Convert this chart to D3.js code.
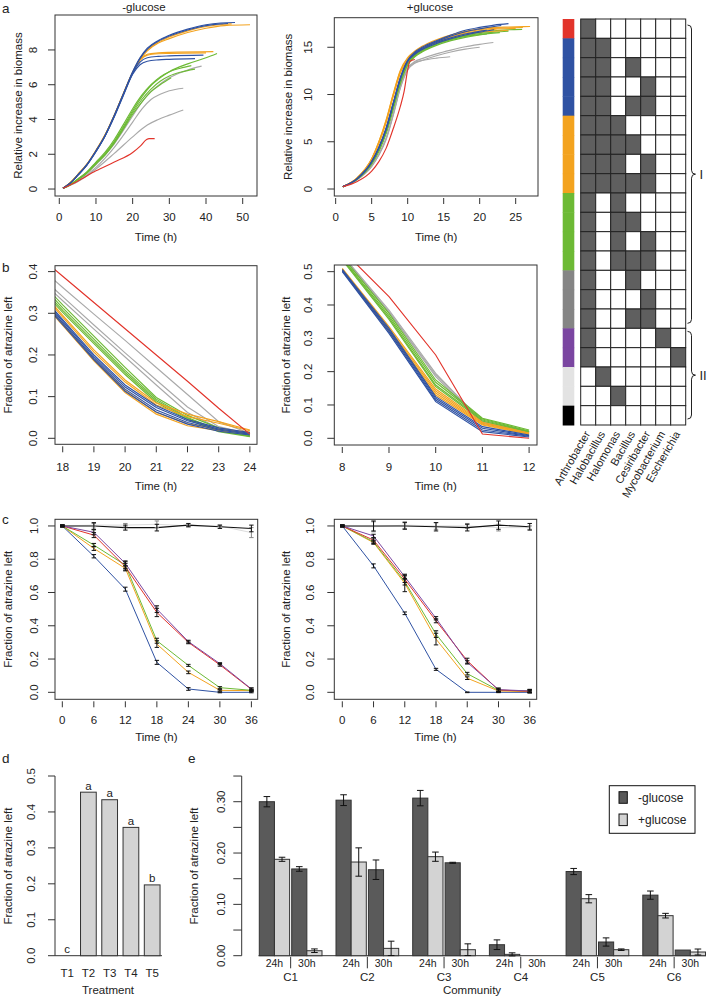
<!DOCTYPE html>
<html><head><meta charset="utf-8">
<script src="https://cdn.jsdelivr.net/npm/d3@7"></script>
<style>
body{margin:0;background:#fff;}
text{font-family:"Liberation Sans",Arial,sans-serif;fill:#222;}
</style></head><body>
<svg id="fig" width="709" height="999"></svg>
<script>
// ---------------- DATA ----------------
// community group (colour bar group) of each of the 16 curves in panels a and b
const curveGroups = ["red","blue","blue","blue","blue","orange","orange","orange","orange","green","green","green","green","grey","grey","grey"];

// panel a, -glucose: [time h, relative increase in biomass]
const aMinus = [
 [[1,0.04],[5,0.45],[10,1.05],[15,1.55],[20,2.1],[22,2.45],[23.8,2.85],[24.5,2.9],[26,2.9]],
 [[1,0.05],[3,0.35],[5,0.8],[7.5,1.4],[10,2.2],[12.5,3.1],[15,4.25],[17.5,5.5],[20,6.75],[22,7.55],[24,8.1],[27,8.55],[30,8.85],[35,9.2],[40,9.45],[44,9.55],[47.9,9.58]],
 [[1,0.05],[3,0.34],[5,0.78],[7.5,1.38],[10,2.17],[12.5,3.07],[15,4.2],[17.5,5.45],[20,6.7],[22,7.5],[24,8.05],[27,8.5],[30,8.8],[35,9.15],[40,9.4],[44,9.5],[46,9.52]],
 [[1,0.05],[3,0.34],[5,0.78],[7.5,1.38],[10,2.17],[12.5,3.07],[15,4.2],[17.5,5.45],[20,6.65],[22,7.3],[24,7.55],[27,7.63],[30,7.66],[39.3,7.7]],
 [[1,0.05],[3,0.34],[5,0.78],[7.5,1.37],[10,2.15],[12.5,3.05],[15,4.15],[17.5,5.4],[20,6.6],[22,7.15],[24,7.35],[27,7.43],[30,7.46],[37,7.5]],
 [[1,0.05],[3,0.36],[5,0.82],[7.5,1.42],[10,2.22],[12.5,3.12],[15,4.25],[17.5,5.5],[20,6.7],[22,7.45],[24,7.95],[27,8.4],[30,8.65],[35,9.0],[40,9.25],[45,9.4],[52,9.45]],
 [[1,0.05],[3,0.36],[5,0.82],[7.5,1.42],[10,2.22],[12.5,3.12],[15,4.25],[17.5,5.5],[20,6.72],[22,7.5],[24,8.0],[27,8.45],[30,8.75],[35,9.1],[40,9.35],[45,9.48],[47,9.5]],
 [[1,0.05],[3,0.36],[5,0.82],[7.5,1.42],[10,2.22],[12.5,3.12],[15,4.25],[17.5,5.5],[20,6.7],[22,7.45],[24,7.75],[27,7.83],[30,7.86],[42,7.9]],
 [[1,0.05],[3,0.36],[5,0.81],[7.5,1.41],[10,2.2],[12.5,3.1],[15,4.22],[17.5,5.47],[20,6.68],[22,7.4],[24,7.7],[27,7.78],[30,7.8],[40,7.83]],
 [[1,0.04],[3,0.25],[5,0.55],[7.5,0.95],[10,1.5],[12.5,2.05],[15,2.75],[17.5,3.6],[20,4.5],[22.5,5.3],[25,5.95],[27.5,6.4],[30,6.75],[35,7.2],[40,7.55],[43,7.8]],
 [[1,0.04],[3,0.26],[5,0.57],[7.5,0.98],[10,1.55],[12.5,2.12],[15,2.85],[17.5,3.72],[20,4.62],[22.5,5.4],[25,6.0],[27.5,6.45],[30,6.75],[33,6.95],[36,7.1]],
 [[1,0.04],[3,0.25],[5,0.54],[7.5,0.93],[10,1.47],[12.5,2.0],[15,2.7],[17.5,3.52],[20,4.4],[22.5,5.15],[25,5.75],[27.5,6.2],[30,6.5],[33,6.72],[37,6.9]],
 [[1,0.04],[3,0.24],[5,0.53],[7.5,0.91],[10,1.44],[12.5,1.96],[15,2.64],[17.5,3.45],[20,4.3],[22.5,5.0],[25,5.6],[27.5,6.0],[30.5,6.4]],
 [[1,0.04],[5,0.5],[10,1.4],[15,2.6],[20,4.2],[22.5,5.0],[25,5.6],[27.5,6.05],[30,6.4],[35,6.85],[38.8,7.07]],
 [[1,0.04],[5,0.45],[10,1.25],[15,2.4],[20,3.85],[22.5,4.6],[25,5.15],[27.5,5.45],[30,5.65],[33.8,5.8]],
 [[1,0.04],[5,0.42],[10,1.15],[15,2.05],[20,3.0],[22.5,3.45],[24,3.68],[27,4.0],[30,4.25],[33.8,4.55]]
];

// panel a, +glucose
const aPlus = [
 [[1,0.25],[3,0.8],[5,1.9],[6,2.9],[7,4.3],[8,6.4],[9,8.8],[9.5,10.3],[10,12.6],[10.3,13.5],[11,13.7]],
 [[1,0.25],[3,1.1],[5,2.9],[6,4.4],[7,6.4],[8,9.1],[9,11.8],[10,13.6],[11,14.5],[12,15.0],[14,15.7],[16,16.3],[18,16.8],[20,17.1],[22,17.35],[24,17.5]],
 [[1,0.25],[3,1.1],[5,2.9],[6,4.4],[7,6.4],[8,9.1],[9,11.8],[10,13.6],[11,14.4],[12,14.9],[14,15.6],[16,16.2],[18,16.65],[20,16.95],[22,17.2],[23,17.3]],
 [[1,0.25],[3,1.1],[5,2.85],[6,4.35],[7,6.3],[8,9.0],[9,11.7],[10,13.5],[11,14.3],[12,14.8],[14,15.5],[16,16.0],[18,16.4],[20,16.7],[21,16.8]],
 [[1,0.25],[3,1.1],[5,2.85],[6,4.35],[7,6.3],[8,9.0],[9,11.7],[10,13.5],[11,14.25],[12,14.75],[14,15.4],[16,15.9],[18,16.3],[20,16.6],[22,16.85]],
 [[1,0.25],[3,1.2],[5,3.2],[6,5.0],[7,7.3],[8,10.1],[9,12.6],[10,13.9],[11,14.6],[12,15.1],[14,15.8],[16,16.3],[18,16.7],[20,16.95],[22,17.1],[24,17.15],[27,17.2]],
 [[1,0.25],[3,1.2],[5,3.2],[6,5.0],[7,7.2],[8,10.0],[9,12.5],[10,13.8],[11,14.5],[12,15.0],[14,15.7],[16,16.2],[18,16.6],[20,16.85],[22,17.0],[24,17.05],[26,17.1]],
 [[1,0.25],[3,1.15],[5,3.1],[6,4.9],[7,7.1],[8,9.9],[9,12.4],[10,13.7],[11,14.4],[12,14.9],[14,15.6],[16,16.1],[18,16.5],[20,16.75],[22,16.9],[25,17.0]],
 [[1,0.25],[3,1.15],[5,3.1],[6,4.8],[7,7.0],[8,9.8],[9,12.3],[10,13.6],[11,14.3],[12,14.8],[14,15.5],[16,16.0],[18,16.4],[20,16.6],[22,16.7],[24,16.8]],
 [[1,0.25],[3,1.05],[5,2.7],[6,4.1],[7,6.0],[8,8.7],[9,11.4],[10,13.3],[11,14.2],[12,14.7],[14,15.4],[16,15.9],[18,16.3],[20,16.55],[22,16.75],[24,16.85],[25.9,16.9]],
 [[1,0.25],[3,1.05],[5,2.7],[6,4.1],[7,6.0],[8,8.6],[9,11.3],[10,13.2],[11,14.1],[12,14.6],[14,15.3],[16,15.8],[18,16.15],[20,16.35],[22.8,16.55]],
 [[1,0.25],[3,1.05],[5,2.65],[6,4.0],[7,5.9],[8,8.5],[9,11.2],[10,13.1],[11,14.0],[12,14.5],[14,15.2],[16,15.7],[18,16.05],[20,16.3],[21,16.4]],
 [[1,0.25],[3,1.05],[5,2.7],[6,4.05],[7,5.95],[8,8.6],[9,11.3],[10,13.2],[11,14.1],[12,14.6],[14,15.35],[16,15.85],[18,16.2],[20,16.45],[22,16.6],[24,16.7]],
 [[1,0.25],[3,1.0],[5,2.5],[6,3.7],[7,5.4],[8,8.0],[9,10.9],[10,12.8],[11,13.5],[12,13.8],[14,14.3],[16,14.7],[18,15.05],[20,15.3],[21.9,15.5]],
 [[1,0.25],[3,1.0],[5,2.4],[6,3.6],[7,5.2],[8,7.8],[9,10.7],[10,12.6],[11,13.3],[12,13.6],[14,14.1],[16,14.5],[18,14.8],[20,15.0]],
 [[1,0.25],[3,1.0],[5,2.4],[6,3.6],[7,5.3],[8,7.9],[9,10.8],[10,12.7],[11,13.4],[12,13.6],[14,13.85],[15.9,14.0]]
];

// panel b, -glucose: fraction of atrazine left at each hour
const bMinusHours = [17,18,19,20,21,22,23,24];
const bMinus = [
 [0.452,0.389,0.326,0.263,0.200,0.137,0.072,0.010],
 [0.370,0.285,0.200,0.128,0.078,0.045,0.025,0.014],
 [0.366,0.281,0.196,0.123,0.074,0.042,0.022,0.012],
 [0.362,0.277,0.192,0.118,0.068,0.038,0.020,0.010],
 [0.358,0.273,0.188,0.113,0.063,0.034,0.017,0.008],
 [0.380,0.295,0.212,0.140,0.085,0.058,0.040,0.020],
 [0.376,0.291,0.207,0.135,0.080,0.052,0.036,0.018],
 [0.360,0.275,0.190,0.115,0.062,0.035,0.022,0.015],
 [0.356,0.271,0.186,0.110,0.058,0.030,0.018,0.012],
 [0.400,0.320,0.245,0.170,0.098,0.055,0.025,0.008],
 [0.393,0.313,0.238,0.163,0.094,0.050,0.020,0.006],
 [0.387,0.307,0.232,0.158,0.090,0.048,0.018,0.005],
 [0.382,0.302,0.227,0.153,0.086,0.045,0.016,0.004],
 [0.426,0.362,0.298,0.235,0.170,0.105,0.040,0.012],
 [0.408,0.340,0.272,0.205,0.140,0.075,0.028,0.010],
 [0.400,0.330,0.262,0.195,0.128,0.062,0.024,0.008]
];

// panel b, +glucose
const bPlusHours = [8,9,10,11,12];
const bPlus = [
 [0.565,0.425,0.250,0.013,0.000],
 [0.507,0.330,0.125,0.035,0.010],
 [0.504,0.325,0.120,0.030,0.008],
 [0.502,0.320,0.115,0.025,0.006],
 [0.500,0.315,0.110,0.020,0.004],
 [0.510,0.335,0.148,0.048,0.016],
 [0.508,0.330,0.142,0.045,0.015],
 [0.505,0.325,0.136,0.042,0.013],
 [0.503,0.320,0.130,0.040,0.012],
 [0.545,0.375,0.175,0.060,0.025],
 [0.540,0.368,0.168,0.058,0.022],
 [0.538,0.362,0.160,0.055,0.020],
 [0.535,0.357,0.155,0.052,0.018],
 [0.550,0.385,0.195,0.050,0.020],
 [0.548,0.380,0.190,0.048,0.018],
 [0.545,0.378,0.185,0.045,0.015]
];

// panel c
const cHours = [0,6,12,18,24,30,36];
const cGroups = ["lightgrey","black","blue","orange","green","red","purple"];
const cMinusMean = [
 [1,1.005,1.005,1.01,1.0,1.0,0.96],
 [1,1.0,0.99,0.99,1.005,0.995,0.985],
 [1,0.818,0.62,0.18,0.02,0.0,0.0],
 [1,0.865,0.745,0.29,0.12,0.012,0.01],
 [1,0.885,0.765,0.31,0.162,0.028,0.012],
 [1,0.945,0.755,0.48,0.30,0.165,0.018],
 [1,0.962,0.775,0.50,0.305,0.172,0.02]
];
const cMinusErr = [
 [0.005,0.01,0.01,0.02,0.005,0.005,0.03],
 [0.005,0.02,0.015,0.02,0.01,0.01,0.02],
 [0.005,0.01,0.012,0.012,0.008,0.003,0.003],
 [0.005,0.012,0.015,0.02,0.008,0.004,0.004],
 [0.005,0.01,0.02,0.015,0.006,0.006,0.004],
 [0.005,0.015,0.02,0.025,0.008,0.008,0.008],
 [0.005,0.015,0.015,0.02,0.008,0.006,0.006]
];
const cPlusMean = [
 [1,0.995,1.005,1.0,1.0,0.99,0.99],
 [1,1.0,1.0,0.995,0.99,1.005,0.995],
 [1,0.76,0.475,0.138,0.0,0.0,0.0],
 [1,0.90,0.655,0.32,0.085,0.008,0.004],
 [1,0.905,0.665,0.35,0.112,0.012,0.008],
 [1,0.915,0.68,0.43,0.19,0.014,0.006],
 [1,0.94,0.695,0.445,0.18,0.016,0.008]
];
const cPlusErr = [
 [0.005,0.03,0.02,0.02,0.015,0.02,0.01],
 [0.005,0.03,0.02,0.025,0.02,0.025,0.02],
 [0.005,0.012,0.008,0.006,0.002,0.002,0.002],
 [0.005,0.01,0.05,0.035,0.008,0.006,0.006],
 [0.005,0.01,0.02,0.02,0.008,0.006,0.006],
 [0.005,0.012,0.02,0.012,0.015,0.01,0.01],
 [0.005,0.01,0.015,0.01,0.01,0.01,0.01]
];

// panel d
const dTreatments = ["T1","T2","T3","T4","T5"];
const dValues = [0.0,0.455,0.434,0.357,0.197];
const dLetters = ["c","a","a","a","b"];

// panel e
const eCommunities = ["C1","C2","C3","C4","C5","C6"];
const eTimes = ["24h","30h"];
const eMinusMean = [[0.300,0.169],[0.303,0.1675],[0.307,0.181],[0.0214,0],[0.164,0.0267],[0.118,0.011]];
const eMinusErr  = [[0.010,0.0045],[0.0105,0.019],[0.015,0.001],[0.0094,0],[0.006,0.008],[0.008,0]];
const ePlusMean  = [[0.1878,0.0097],[0.1825,0.0143],[0.1929,0.0117],[0.0026,0],[0.111,0.0117],[0.078,0.0072]];
const ePlusErr   = [[0.004,0.0035],[0.0276,0.014],[0.009,0.0114],[0.003,0],[0.008,0.0015],[0.0045,0.0058]];

// community composition grid
const genera = ["Arthrobacter","Halobacillus","Halomonas","Bacillus","Cesiribacter","Mycobacterium","Escherichia"];
const gridRowGroups = ["red","blue","blue","blue","blue","orange","orange","orange","orange","green","green","green","green","grey","grey","grey","purple","purple","lightgrey","lightgrey","black"];
const gridRows = [
 [1,0,0,0,0,0,0],[1,1,0,0,0,0,0],[1,1,0,1,0,0,0],[1,1,0,0,1,0,0],[1,1,0,1,1,0,0],
 [1,1,1,0,0,0,0],[1,1,1,1,0,0,0],[1,1,1,0,1,0,0],[1,1,1,1,1,0,0],
 [1,0,1,0,0,0,0],[1,0,1,1,0,0,0],[1,0,1,0,1,0,0],[1,0,1,1,1,0,0],
 [1,0,0,1,0,0,0],[1,0,0,0,1,0,0],[1,0,0,1,1,0,0],
 [1,0,0,0,0,1,0],[1,0,0,0,0,0,1],
 [0,1,0,0,0,0,0],[0,0,1,0,0,0,0],
 [0,0,0,0,0,0,0]
];
const clusterLabels = ["I","II"];

// ---------------- STYLE ----------------
const lineColor = {red:"#e2342b",blue:"#2f52a3",orange:"#f3a31f",green:"#6dba35",grey:"#a9a9a9",purple:"#7b46a1",lightgrey:"#dcdcdc",black:"#111"};
const barColor  = {red:"#e2342b",blue:"#2f52a3",orange:"#f3a31f",green:"#6dba35",grey:"#858585",purple:"#7b46a1",lightgrey:"#e3e3e3",black:"#000"};
const AX = "#333";
const svg = d3.select("#fig");

function txt(g,x,y,s,o={}){
  const t=g.append("text").attr("x",x).attr("y",y).text(s)
    .attr("font-size",o.size||11.5).attr("text-anchor",o.anchor||"middle");
  if(o.dy) t.attr("dy",o.dy);
  if(o.rot!==undefined) t.attr("transform",`rotate(${o.rot},${x},${y})`);
  if(o.family) t.attr("font-family",o.family);
  return t;
}

function linePanel(p){
  const [x0,x1,y0,y1]=p.box;
  const x=d3.scaleLinear().domain(p.xDom).range([x0,x1]);
  const y=d3.scaleLinear().domain(p.yDom).range([y1,y0]);
  const g=svg.append("g");
  svg.append("clipPath").attr("id",p.id).append("rect")
    .attr("x",x0).attr("y",y0).attr("width",x1-x0).attr("height",y1-y0);
  const plot=g.append("g").attr("clip-path",`url(#${p.id})`);
  g.append("rect").attr("x",x0).attr("y",y0).attr("width",x1-x0).attr("height",y1-y0)
    .attr("fill","none").attr("stroke",AX).attr("stroke-width",1);
  p.yTicks.forEach(v=>{
    g.append("line").attr("x1",x0-7).attr("x2",x0).attr("y1",y(v)).attr("y2",y(v)).attr("stroke",AX);
    txt(g,p.yLabX,y(v),p.yFmt(v),{rot:-90,dy:"0.35em"});
  });
  p.xTicks.forEach(v=>{
    g.append("line").attr("x1",x(v)).attr("x2",x(v)).attr("y1",y1+2).attr("y2",y1+8).attr("stroke",AX);
    txt(g,x(v),y1+p.xLabOff,String(v),{dy:"0.35em"});
  });
  txt(g,(x0+x1)/2,y1+p.xTitleOff,"Time (h)",{dy:"0.35em"});
  txt(g,p.yTitleX,(y0+y1)/2,p.yTitle,{rot:-90,dy:"0.35em"});
  if(p.title) txt(g,p.titleX,10.8,p.title,{size:11.5});
  return {x,y,plot,g};
}

const f1=d3.format(".1f");
const order=["grey","green","orange","blue","red"];
function drawCurves(P,data,curve){
  order.forEach(grp=>{
    data.forEach((pts,i)=>{
      if(curveGroups[i]!==grp) return;
      const line=d3.line().x(d=>P.x(d[0])).y(d=>P.y(d[1])).curve(curve);
      P.plot.append("path").attr("d",line(pts)).attr("fill","none")
        .attr("stroke",lineColor[grp]).attr("stroke-width",1.15);
    });
  });
}

// ---- panel a ----
const A1=linePanel({id:"ca1",box:[55,257,15,196],xDom:[-1.17,53.9],yDom:[-0.40,10.01],
  xTicks:[0,10,20,30,40,50],yTicks:[0,2,4,6,8],yFmt:String,yLabX:32.5,xLabOff:21,xTitleOff:41,
  yTitleX:17.5,yTitle:"Relative increase in biomass",title:"-glucose",titleX:144});
drawCurves(A1,aMinus,d3.curveMonotoneX);
const A2=linePanel({id:"ca2",box:[334.3,538,17.7,196],xDom:[-0.19,28.1],yDom:[-0.74,18.13],
  xTicks:[0,5,10,15,20,25],yTicks:[0,5,10,15],yFmt:String,yLabX:308,xLabOff:21,xTitleOff:41,
  yTitleX:287.5,yTitle:"Relative increase in biomass",title:"+glucose",titleX:430});
drawCurves(A2,aPlus,d3.curveMonotoneX);

// ---- panel b ----
const B1=linePanel({id:"cb1",box:[55,257,265.7,444.3],xDom:[17.753,24.228],yDom:[-0.0144,0.4142],
  xTicks:[18,19,20,21,22,23,24],yTicks:[0,0.1,0.2,0.3,0.4],yFmt:f1,yLabX:33,xLabOff:22.4,xTitleOff:42,
  yTitleX:8,yTitle:"Fraction of atrazine left"});
drawCurves(B1,bMinus.map(r=>r.map((v,j)=>[bMinusHours[j],v])),d3.curveLinear);
const B2=linePanel({id:"cb2",box:[334.3,537,265,445],xDom:[7.829,12.169],yDom:[-0.0201,0.52],
  xTicks:[8,9,10,11,12],yTicks:[0,0.1,0.2,0.3,0.4,0.5],yFmt:f1,yLabX:308,xLabOff:21.7,xTitleOff:41.3,
  yTitleX:286,yTitle:"Fraction of atrazine left"});
drawCurves(B2,bPlus.map(r=>r.map((v,j)=>[bPlusHours[j],v])),d3.curveLinear);

// ---- panel c ----
function drawC(P,mean,err){
  const line=d3.line().x((d,j)=>P.x(cHours[j])).y(d=>P.y(d));
  cGroups.forEach((grp,i)=>{
    P.plot.append("path").attr("d",line(mean[i])).attr("fill","none")
      .attr("stroke",lineColor[grp]).attr("stroke-width",grp==="black"?1.1:1);
  });
  cGroups.forEach((grp,i)=>{
    mean[i].forEach((m,j)=>{
      const xx=P.x(cHours[j]),lo=P.y(m-err[i][j]),hi=P.y(m+err[i][j]);
      const c=grp==="lightgrey"?"#888":"#111";
      P.g.append("line").attr("x1",xx).attr("x2",xx).attr("y1",lo).attr("y2",hi).attr("stroke",c).attr("stroke-width",1);
      [lo,hi].forEach(yy=>P.g.append("line").attr("x1",xx-2.2).attr("x2",xx+2.2).attr("y1",yy).attr("y2",yy).attr("stroke",c).attr("stroke-width",1));
    });
  });
}
const C1=linePanel({id:"cc1",box:[55,257.7,519.3,699.3],xDom:[-1.395,37.2],yDom:[-0.042,1.04],
  xTicks:[0,6,12,18,24,30,36],yTicks:[0,0.2,0.4,0.6,0.8,1.0],yFmt:f1,yLabX:34,xLabOff:20.7,xTitleOff:38,
  yTitleX:8,yTitle:"Fraction of atrazine left"});
drawC(C1,cMinusMean,cMinusErr);
const C2=linePanel({id:"cc2",box:[334.3,536.7,519.3,699.3],xDom:[-1.537,37.34],yDom:[-0.042,1.04],
  xTicks:[0,6,12,18,24,30,36],yTicks:[0,0.2,0.4,0.6,0.8,1.0],yFmt:f1,yLabX:310,xLabOff:20.7,xTitleOff:38,
  yTitleX:286,yTitle:"Fraction of atrazine left"});
drawC(C2,cPlusMean,cPlusErr);

// ---- grid ----
(function(){
  const g=svg.append("g");
  const gx=d3.scaleBand().domain(genera).range([580.7,685.7]);
  const gy=d3.scaleBand().domain(d3.range(gridRows.length)).range([19,425]);
  gridRows.forEach((row,r)=>{
    g.append("rect").attr("x",562.7).attr("y",gy(r)).attr("width",11.6).attr("height",gy.bandwidth()+0.5)
      .attr("fill",barColor[gridRowGroups[r]]);
    row.forEach((v,c)=>{
      g.append("rect").attr("x",gx(genera[c])).attr("y",gy(r)).attr("width",gx.bandwidth()).attr("height",gy.bandwidth())
        .attr("fill",v?"#5f5f5f":"#fff").attr("stroke","#222").attr("stroke-width",1);
    });
  });
  genera.forEach(n=>{
    const xx=gx(n)+gx.bandwidth()/2-1, yy=432;
    txt(g,xx,yy,n,{anchor:"end",rot:-60,dy:"0.35em",size:11});
  });
  // brackets
  const br=(top,bot,label)=>{
    const m=(top+bot)/2, X=691.5;
    g.append("path").attr("d",`M${X-4},${top} Q${X},${top} ${X},${top+4} L${X},${m-4} Q${X},${m} ${X+4},${m} Q${X},${m} ${X},${m+4} L${X},${bot-4} Q${X},${bot} ${X-4},${bot}`)
      .attr("fill","none").attr("stroke","#222").attr("stroke-width",1);
    txt(g,X+8,m,label,{anchor:"start",dy:"0.35em",size:13,family:"'Liberation Serif','Times New Roman',serif"});
  };
  br(gy(0)+6,gy(15)+gy.bandwidth()-5,clusterLabels[0]);
  br(gy(16)+3,gy(20)+gy.bandwidth()-6,clusterLabels[1]);
})();

// ---- panel d ----
(function(){
  const g=svg.append("g");
  const y=d3.scaleLinear().domain([0,0.5]).range([955.7,776]);
  const x=d3.scaleBand().domain(dTreatments).range([55,164.3]).paddingInner(0.26).paddingOuter(0.2);
  g.append("line").attr("x1",55).attr("x2",55).attr("y1",y(0)).attr("y2",y(0.5)).attr("stroke",AX);
  [0,0.1,0.2,0.3,0.4,0.5].forEach(v=>{
    g.append("line").attr("x1",48).attr("x2",55).attr("y1",y(v)).attr("y2",y(v)).attr("stroke",AX);
    txt(g,31,y(v),f1(v),{rot:-90,dy:"0.35em"});
  });
  g.append("line").attr("x1",55).attr("x2",162).attr("y1",y(0)).attr("y2",y(0)).attr("stroke",AX);
  dTreatments.forEach((t,i)=>{
    g.append("rect").attr("x",x(t)).attr("y",y(dValues[i])).attr("width",x.bandwidth()).attr("height",y(0)-y(dValues[i]))
      .attr("fill","#d3d3d3").attr("stroke",AX).attr("stroke-width",1);
    txt(g,x(t)+x.bandwidth()/2,y(dValues[i])-2.5,dLetters[i]);
    txt(g,x(t)+x.bandwidth()/2,973.3,t,{dy:"0.35em"});
  });
  txt(g,108,990,"Treatment",{dy:"0.35em"});
  txt(g,8,866,"Fraction of atrazine left",{rot:-90,dy:"0.35em"});
})();

// ---- panel e ----
(function(){
  const g=svg.append("g");
  const y=d3.scaleLinear().domain([0,0.35]).range([955.7,955.7-0.35*513.3]);
  const xG=d3.scaleBand().domain(eCommunities).range([259.3,705.5]).paddingInner(0.1825).paddingOuter(0);
  const xT=d3.scaleBand().domain(eTimes).range([0,xG.bandwidth()]).paddingInner(0.065);
  const xC=d3.scaleBand().domain(["-glucose","+glucose"]).range([0,xT.bandwidth()]);
  g.append("line").attr("x1",241.7).attr("x2",241.7).attr("y1",y(0)).attr("y2",y(0.35)).attr("stroke",AX);
  d3.range(0,0.351,0.05).forEach((v,i)=>{
    g.append("line").attr("x1",233.3).attr("x2",241.7).attr("y1",y(v)).attr("y2",y(v)).attr("stroke",AX);
    if(i%2===0) txt(g,221,y(v),d3.format(".2f")(v),{rot:-90,dy:"0.35em"});
  });
  g.append("line").attr("x1",258.5).attr("x2",706).attr("y1",y(0)).attr("y2",y(0)).attr("stroke",AX);
  eCommunities.forEach((c,ci)=>{
    eTimes.forEach((t,ti)=>{
      const sets=[["-glucose",eMinusMean,eMinusErr,"#5a5a5a"],["+glucose",ePlusMean,ePlusErr,"#d3d3d3"]];
      sets.forEach(([k,M,E,fill])=>{
        const v=M[ci][ti], e=E[ci][ti];
        const bx=xG(c)+xT(t)+xC(k), bw=xC.bandwidth();
        g.append("rect").attr("x",bx).attr("y",y(v)).attr("width",bw).attr("height",y(0)-y(v))
          .attr("fill",fill).attr("stroke",AX).attr("stroke-width",1);
        if(e>0){
          const cx=bx+bw/2;
          g.append("line").attr("x1",cx).attr("x2",cx).attr("y1",y(v-e)).attr("y2",y(v+e)).attr("stroke","#111");
          [v-e,v+e].forEach(vv=>g.append("line").attr("x1",cx-3.3).attr("x2",cx+3.3).attr("y1",y(vv)).attr("y2",y(vv)).attr("stroke","#111"));
        }
      });
      txt(g,xG(c)+xT(t)+xT.bandwidth()/2,963.3,t,{dy:"0.35em",size:10.5});
    });
    const sep=xG(c)+xT(eTimes[1])-(xT.step()-xT.bandwidth())/2;
    g.append("line").attr("x1",sep).attr("x2",sep).attr("y1",956.7).attr("y2",968.3).attr("stroke",AX);
    txt(g,xG(c)+xG.bandwidth()/2,976.5,c,{dy:"0.35em"});
  });
  txt(g,472,990,"Community",{dy:"0.35em"});
  txt(g,194,866,"Fraction of atrazine left",{rot:-90,dy:"0.35em"});
  // legend
  g.append("rect").attr("x",609.3).attr("y",785.7).attr("width",85.7).attr("height",47.6).attr("fill","#fff").attr("stroke","#111");
  [["-glucose","#5a5a5a",797.5],["+glucose","#d3d3d3",819.8]].forEach(([s,f,yy])=>{
    g.append("rect").attr("x",619).attr("y",yy-5.8).attr("width",8.3).attr("height",11.6).attr("fill",f).attr("stroke","#111");
    txt(g,638,yy,s,{anchor:"start",dy:"0.35em",size:12});
  });
})();

// ---- panel letters ----
[["a",2,12.5],["b",2,271.7],["c",2,523.5],["d",2,763.3],["e",188,763.3]].forEach(([s,x,y])=>
  txt(svg,x,y,s,{anchor:"start",size:13.5}));
</script></body></html>
